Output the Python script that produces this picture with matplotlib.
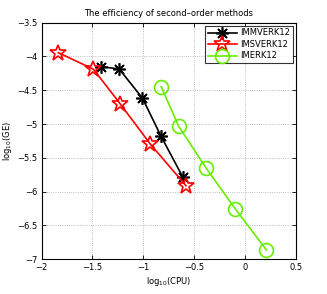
import matplotlib
matplotlib.use("Agg")
import matplotlib.pyplot as plt

immverk_x = [-1.414, -1.237, -1.008, -0.827, -0.614]
immverk_y = [-4.151, -4.185, -4.618, -5.176, -5.778]
imsverk_x = [-1.835, -1.490, -1.224, -0.932, -0.581]
imsverk_y = [-3.944, -4.189, -4.707, -5.294, -5.911]
imerk_x = [-0.824, -0.654, -0.381, -0.095, 0.210]
imerk_y = [-4.447, -5.028, -5.654, -6.256, -6.862]

xticks = [-2, -1.5, -1, -0.5, 0, 0.5]
yticks = [-3.5, -4, -4.5, -5, -5.5, -6, -6.5, -7]
xticklabels = ["\u22122", "\u22121.5", "\u22121", "\u22120.5", "0", "0.5"]
yticklabels = ["\u22123.5", "\u22124", "\u22124.5", "\u22125", "\u22125.5", "\u22126", "\u22126.5", "\u22127"]

plt.rcParams['font.family'] = ['DejaVu Sans']
fig = plt.figure(figsize=(3.27, 2.94), dpi=100)
ax = fig.add_axes([0.127, 0.118, 0.778, 0.805])

ax.plot(immverk_x, immverk_y, color='black', lw=1.2, marker=(8, 2, 0), ms=9, mew=1.2, label='IMMVERK12')
ax.plot(imsverk_x, imsverk_y, color='red', lw=1.2, marker='*', ms=12, mfc='none', mew=1.2, label='IMSVERK12')
ax.plot(imerk_x, imerk_y, color='#66ee00', lw=1.2, marker='o', ms=10, mfc='none', mew=1.2, label='IMERK12')

ax.set_xlim(-2, 0.5)
ax.set_ylim(-7, -3.5)
ax.set_xticks(xticks)
ax.set_xticklabels(xticklabels)
ax.set_yticks(yticks)
ax.set_yticklabels(yticklabels)
ax.tick_params(direction='in', labelsize=6, length=3, width=0.6, top=True, right=True, pad=3)
ax.grid(True, linestyle=':', color='#aaaaaa', linewidth=0.6)
for s in ax.spines.values():
    s.set_linewidth(0.8)

ax.set_xlabel(r'log$_{10}$(CPU)', fontsize=6, labelpad=2)
ax.set_ylabel(r'log$_{10}$(GE)', fontsize=6, labelpad=2)
ax.set_title('The efficiency of second\u2013order methods', fontsize=6, pad=5)

leg = ax.legend(loc='upper right', fontsize=6, frameon=True, fancybox=False, edgecolor='black',
                handlelength=3.5, borderpad=0.3, labelspacing=0.3, borderaxespad=0.4, handletextpad=0.4)
leg.get_frame().set_linewidth(0.8)

fig.savefig('out.png', dpi=100)
